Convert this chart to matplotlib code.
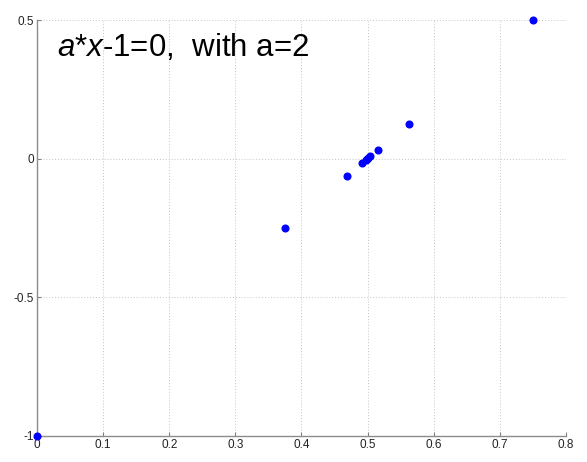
import matplotlib
matplotlib.use('Agg')
import matplotlib.pyplot as plt

# iterates x_k and residuals a*x_k - 1
x_vals = [0.0, 0.75, 0.375, 0.5625, 0.46875, 0.515625, 0.4921875, 0.50390625, 0.498046875, 0.5009765625, 0.49951171875]
y_vals = [-1.0, 0.5, -0.25, 0.125, -0.0625, 0.03125, -0.015625, 0.0078125, -0.00390625, 0.001953125, -0.0009765625]

xticks = [0, 0.1, 0.2, 0.3, 0.4, 0.5, 0.6, 0.7, 0.8]
yticks = [-1, -0.5, 0, 0.5]
xticklabels = ['0', '0.1', '0.2', '0.3', '0.4', '0.5', '0.6', '0.7', '0.8']
yticklabels = ['-1', '-0.5', '0', '0.5']

plt.rcParams['font.family'] = ['Liberation Sans', 'DejaVu Sans']
plt.rcParams['mathtext.fontset'] = 'custom'
plt.rcParams['mathtext.it'] = 'Liberation Sans:italic'
plt.rcParams['mathtext.rm'] = 'Liberation Sans'

fig = plt.figure(figsize=(5.87, 4.62), dpi=100)
ax = fig.add_axes([0.063, 0.0563, 0.901, 0.9004])

ax.plot(x_vals, y_vals, 'o', color='#0000ff', markersize=4.8, clip_on=False, zorder=3)

ax.set_xlim(0, 0.8)
ax.set_ylim(-1, 0.5)
ax.set_xticks(xticks)
ax.set_xticklabels(xticklabels)
ax.set_yticks(yticks)
ax.set_yticklabels(yticklabels)
ax.grid(True, linestyle=(0, (1, 2)), color='#c4c4c4', linewidth=0.7)
ax.tick_params(direction='in', length=3, labelsize=8.5, colors='#808080', labelcolor='#222222', pad=2)

for s in ['top', 'right']:
    ax.spines[s].set_visible(False)
for s in ['left', 'bottom']:
    ax.spines[s].set_color('#8c8c8c')
    ax.spines[s].set_linewidth(1.0)

fig.text(57 / 587, 1 - 56 / 462, r'$\mathit{a}$*$\mathit{x}$-1=0,  with a=2', fontsize=22.5, color='black')

fig.savefig('out.png', dpi=100)
